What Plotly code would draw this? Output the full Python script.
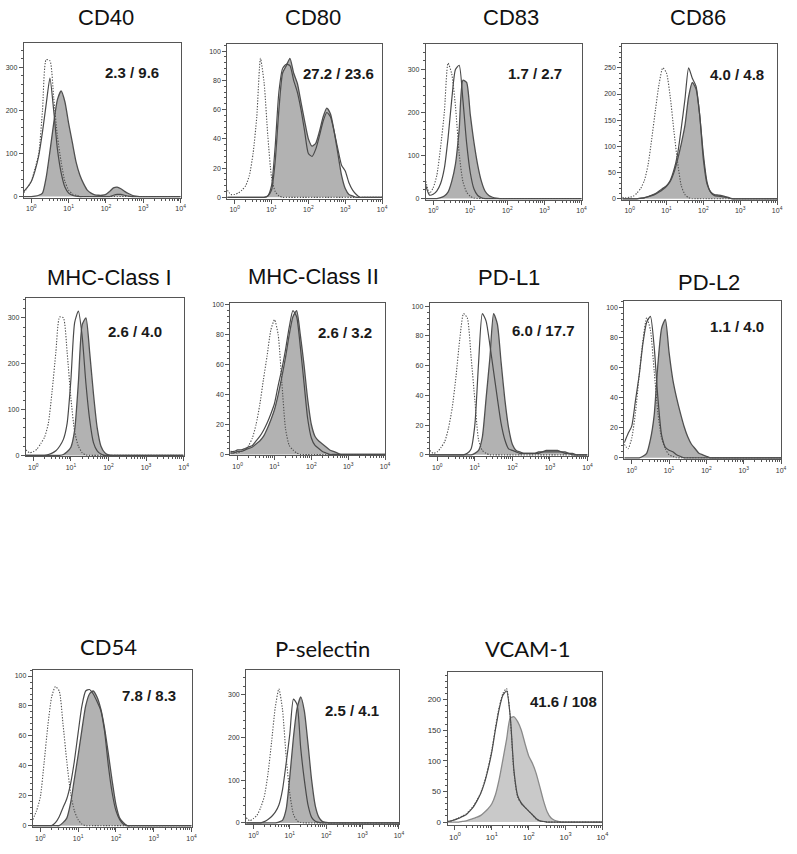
import plotly.graph_objects as go

# ---------------- data ----------------
MARKERS = ["CD40", "CD80", "CD83", "CD86",
           "MHC-Class I", "MHC-Class II", "PD-L1", "PD-L2",
           "CD54", "P-selectin", "VCAM-1"]
RATIOS = ["2.3 / 9.6", "27.2 / 23.6", "1.7 / 2.7", "4.0 / 4.8",
          "2.6 / 4.0", "2.6 / 3.2", "6.0 / 17.7", "1.1 / 4.0",
          "7.8 / 8.3", "2.5 / 4.1", "41.6 / 108"]

# fluorescence bin centres (log-spaced channels)
BINS = [0.631, 0.794,
        1, 1.259, 1.585, 1.995, 2.512, 3.162, 3.981, 5.012, 6.31, 7.943,
        10, 12.59, 15.85, 19.95, 25.12, 31.62, 39.81, 50.12, 63.1, 79.43,
        100, 125.9, 158.5, 199.5, 251.2, 316.2, 398.1, 501.2, 631, 794.3,
        1000, 1259, 1585, 1995, 2512, 3162, 3981, 5012, 6310, 7943,
        10000]

X_TICK_VALS = [1, 10, 100, 1000, 10000]
X_TICK_TEXT = ["10<sup>0</sup>", "10<sup>1</sup>", "10<sup>2</sup>", "10<sup>3</sup>", "10<sup>4</sup>"]
X_MINOR_VALS = [2, 3, 4, 5, 6, 7, 8, 9, 20, 30, 40, 50, 60, 70, 80, 90,
                200, 300, 400, 500, 600, 700, 800, 900,
                2000, 3000, 4000, 5000, 6000, 7000, 8000, 9000]

CD40_ISO = [9, 21,
            36, 65, 100, 200, 318, 315, 230, 140, 80, 35,
            15, 6, 3, 0, 0, 0, 0, 0, 0, 0,
            0, 0, 0, 0, 0, 0, 0, 0, 0, 0,
            0, 0, 0, 0, 0, 0, 0, 0, 0, 0,
            0]
CD40_OPEN = [12, 22,
             35, 60, 95, 150, 215, 275, 200, 110, 55, 22,
             8, 3, 1, 0, 0, 0, 0, 0, 0, 0,
             0, 0, 3, 5, 5, 3, 1, 0, 0, 0,
             0, 0, 0, 0, 0, 0, 0, 0, 0, 0,
             0]
CD40_FILL = [0, 0,
             0, 1, 3, 8, 45, 105, 170, 225, 245, 220,
             170, 125, 80, 50, 30, 15, 8, 4, 3, 3,
             5, 12, 20, 22, 18, 12, 7, 3, 1, 0,
             0, 0, 0, 0, 0, 0, 0, 0, 0, 0,
             0]

CD80_ISO = [5, 2,
            2, 3, 5, 8, 15, 30, 55, 95, 78, 42,
            14, 4, 1, 0, 0, 0, 0, 0, 0, 0,
            0, 0, 0, 0, 0, 0, 0, 0, 0, 0,
            0, 0, 0, 0, 0, 0, 0, 0, 0, 0,
            0]
CD80_OPEN = [0, 0,
             0, 0, 0, 0, 0, 0, 0, 0, 0, 1,
             8, 35, 72, 88, 91, 90, 80, 72, 60, 45,
             30, 28, 33, 42, 52, 58, 55, 45, 33, 22,
             18, 10, 5, 2, 0, 0, 0, 0, 0, 0,
             0]
CD80_FILL = [0, 0,
             0, 0, 0, 0, 0, 0, 0, 0, 0, 1,
             5, 25, 60, 85, 90, 95, 85, 78, 65, 52,
             40, 35, 37, 45, 55, 61, 57, 45, 30, 15,
             6, 2, 1, 0, 0, 0, 0, 0, 0, 0,
             0]

CD83_ISO = [40, 12,
            25, 55, 120, 200, 315, 290, 215, 105, 40, 15,
            5, 1, 0, 0, 0, 0, 0, 0, 0, 0,
            0, 0, 0, 0, 0, 0, 0, 0, 0, 0,
            0, 0, 0, 0, 0, 0, 0, 0, 0, 0,
            0]
CD83_OPEN = [30, 8,
             10, 18, 35, 70, 140, 230, 300, 310, 230, 130,
             60, 22, 7, 2, 0, 0, 0, 0, 0, 0,
             0, 0, 0, 0, 0, 0, 0, 0, 0, 0,
             0, 0, 0, 0, 0, 0, 0, 0, 0, 0,
             0]
CD83_FILL = [0, 0,
             0, 0, 2, 6, 15, 40, 80, 160, 275, 270,
             195, 130, 78, 40, 17, 7, 3, 1, 0, 0,
             0, 0, 0, 0, 0, 0, 0, 0, 0, 0,
             0, 0, 0, 0, 0, 0, 0, 0, 0, 0,
             0]

CD86_ISO = [3, 2,
            3, 5, 11, 20, 35, 65, 115, 170, 220, 250,
            240, 195, 130, 70, 25, 8, 2, 0, 0, 0,
            0, 0, 0, 0, 0, 0, 0, 0, 0, 0,
            0, 0, 0, 0, 0, 0, 0, 0, 0, 0,
            0]
CD86_OPEN = [0, 0,
             0, 0, 0, 1, 2, 4, 7, 10, 15, 20,
             25, 35, 55, 85, 135, 190, 250, 230, 215, 160,
             85, 32, 12, 6, 5, 4, 3, 1, 0, 0,
             0, 0, 0, 0, 0, 0, 0, 0, 0, 0,
             0]
CD86_FILL = [0, 0,
             0, 0, 0, 1, 2, 4, 6, 9, 13, 18,
             24, 33, 50, 75, 105, 140, 195, 222, 210, 160,
             75, 28, 13, 8, 7, 6, 4, 2, 0, 0,
             0, 0, 0, 0, 0, 0, 0, 0, 0, 0,
             0]

MHC1_ISO = [12, 6,
            8, 14, 26, 40, 70, 140, 225, 302, 300, 225,
            125, 52, 20, 6, 1, 0, 0, 0, 0, 0,
            0, 0, 0, 0, 0, 0, 0, 0, 0, 0,
            0, 0, 0, 0, 0, 0, 0, 0, 0, 0,
            0]
MHC1_OPEN = [0, 0,
             0, 0, 0, 0, 2, 5, 10, 20, 35, 70,
             165, 290, 315, 260, 157, 78, 28, 10, 3, 0,
             0, 0, 0, 0, 0, 0, 0, 0, 0, 0,
             0, 0, 0, 0, 0, 0, 0, 0, 0, 0,
             0]
MHC1_FILL = [0, 0,
             0, 0, 0, 0, 0, 0, 0, 0, 2, 8,
             18, 55, 160, 285, 300, 225, 135, 60, 20, 6,
             1, 0, 0, 0, 0, 0, 0, 0, 0, 0,
             0, 0, 0, 0, 0, 0, 0, 0, 0, 0,
             0]

MHC2_ISO = [1, 1,
            1, 2, 3, 6, 11, 20, 33, 50, 66, 83,
            90, 80, 48, 17, 6, 3, 1, 0, 0, 0,
            0, 0, 0, 0, 0, 0, 0, 0, 0, 0,
            0, 0, 0, 0, 0, 0, 0, 0, 0, 0,
            0]
MHC2_OPEN = [2, 2,
             3, 3, 4, 5, 6, 9, 12, 16, 21, 27,
             34, 46, 57, 70, 85, 96, 92, 72, 48, 24,
             11, 6, 4, 2, 1, 0, 0, 0, 0, 0,
             0, 0, 0, 0, 0, 0, 0, 0, 0, 0,
             0]
MHC2_FILL = [1, 1,
             2, 2, 3, 4, 5, 7, 9, 12, 17, 23,
             30, 40, 52, 65, 80, 92, 96, 80, 60, 37,
             20, 12, 9, 7, 5, 3, 2, 1, 0, 0,
             0, 0, 0, 0, 0, 0, 0, 0, 0, 0,
             0]

PDL1_ISO = [3, 1,
            2, 5, 9, 18, 32, 53, 78, 95, 92, 66,
            37, 10, 3, 1, 0, 0, 0, 0, 0, 0,
            0, 0, 0, 0, 0, 0, 0, 0, 0, 0,
            0, 0, 0, 0, 0, 0, 0, 0, 0, 0,
            0]
PDL1_OPEN = [0, 0,
             0, 0, 0, 0, 0, 0, 0, 0, 1, 4,
             20, 62, 95, 90, 74, 56, 38, 21, 10, 4,
             3, 2, 1, 1, 1, 1, 1, 1, 2, 2,
             2, 2, 2, 2, 1, 1, 0, 0, 0, 0,
             0]
PDL1_FILL = [0, 0,
             0, 0, 0, 0, 0, 0, 0, 0, 0, 0,
             1, 3, 12, 38, 65, 95, 88, 62, 37, 18,
             7, 3, 2, 1, 1, 1, 1, 2, 2, 3,
             3, 3, 3, 2, 2, 1, 1, 0, 0, 0,
             0]

PDL2_ISO = [9, 6,
            13, 30, 55, 78, 93, 85, 58, 30, 13, 6,
            2, 1, 0, 0, 0, 0, 0, 0, 0, 0,
            0, 0, 0, 0, 0, 0, 0, 0, 0, 0,
            0, 0, 0, 0, 0, 0, 0, 0, 0, 0,
            0]
PDL2_OPEN = [10, 16,
             21, 38, 55, 76, 90, 94, 74, 40, 15, 7,
             5, 4, 2, 1, 0, 0, 0, 0, 0, 0,
             0, 0, 0, 0, 0, 0, 0, 0, 0, 0,
             0, 0, 0, 0, 0, 0, 0, 0, 0, 0,
             0]
PDL2_FILL = [0, 0,
             0, 0, 0, 1, 3, 12, 28, 62, 86, 92,
             70, 52, 40, 30, 21, 14, 9, 6, 3, 2,
             1, 0, 0, 0, 0, 0, 0, 0, 0, 0,
             0, 0, 0, 0, 0, 0, 0, 0, 0, 0,
             0]

CD54_ISO = [4, 10,
            19, 42, 67, 86, 93, 90, 68, 43, 22, 10,
            4, 1, 0, 0, 0, 0, 0, 0, 0, 0,
            0, 0, 0, 0, 0, 0, 0, 0, 0, 0,
            0, 0, 0, 0, 0, 0, 0, 0, 0, 0,
            0]
CD54_OPEN = [0, 0,
             0, 0, 0, 0, 2, 6, 12, 18, 28, 43,
             62, 80, 90, 91, 88, 83, 77, 63, 40, 22,
             10, 4, 1, 0, 0, 0, 0, 0, 0, 0,
             0, 0, 0, 0, 0, 0, 0, 0, 0, 0,
             0]
CD54_FILL = [0, 0,
             0, 0, 0, 0, 0, 0, 2, 5, 15, 31,
             47, 64, 80, 88, 90, 86, 78, 65, 48, 30,
             14, 5, 2, 0, 0, 0, 0, 0, 0, 0,
             0, 0, 0, 0, 0, 0, 0, 0, 0, 0,
             0]

PSEL_ISO = [12, 5,
            10, 18, 36, 62, 115, 190, 270, 314, 265, 155,
            69, 20, 5, 1, 0, 0, 0, 0, 0, 0,
            0, 0, 0, 0, 0, 0, 0, 0, 0, 0,
            0, 0, 0, 0, 0, 0, 0, 0, 0, 0,
            0]
PSEL_OPEN = [0, 0,
             0, 0, 0, 3, 8, 15, 25, 42, 78, 140,
             208, 290, 277, 175, 100, 42, 13, 4, 1, 0,
             0, 0, 0, 0, 0, 0, 0, 0, 0, 0,
             0, 0, 0, 0, 0, 0, 0, 0, 0, 0,
             0]
PSEL_FILL = [0, 0,
             0, 0, 0, 0, 0, 0, 0, 2, 6, 32,
             108, 200, 268, 295, 262, 185, 100, 40, 13, 3,
             1, 0, 0, 0, 0, 0, 0, 0, 0, 0,
             0, 0, 0, 0, 0, 0, 0, 0, 0, 0,
             0]

VCAM_ISO = [1, 2,
            4, 7, 10, 13, 19, 26, 36, 48, 66, 89,
            118, 155, 188, 210, 218, 170, 80, 41, 30, 24,
            18, 12, 5, 2, 1, 0, 0, 0, 0, 0,
            0, 0, 0, 0, 0, 0, 0, 0, 0, 0,
            0]
VCAM_OPEN = [1, 2,
             4, 6, 9, 12, 18, 25, 35, 47, 64, 87,
             115, 152, 185, 207, 214, 172, 84, 43, 31, 24,
             18, 12, 6, 2, 1, 0, 0, 0, 0, 0,
             0, 0, 0, 0, 0, 0, 0, 0, 0, 0,
             0]
VCAM_FILL = [0, 0,
             0, 0, 1, 2, 4, 6, 8, 11, 16, 22,
             30, 45, 70, 102, 135, 170, 172, 164, 150, 128,
             108, 96, 80, 58, 35, 17, 7, 3, 1, 0,
             0, 0, 0, 0, 0, 0, 0, 0, 0, 0,
             0]

ISO = [CD40_ISO, CD80_ISO, CD83_ISO, CD86_ISO, MHC1_ISO, MHC2_ISO,
       PDL1_ISO, PDL2_ISO, CD54_ISO, PSEL_ISO, VCAM_ISO]
OPEN = [CD40_OPEN, CD80_OPEN, CD83_OPEN, CD86_OPEN, MHC1_OPEN, MHC2_OPEN,
        PDL1_OPEN, PDL2_OPEN, CD54_OPEN, PSEL_OPEN, VCAM_OPEN]
FILL = [CD40_FILL, CD80_FILL, CD83_FILL, CD86_FILL, MHC1_FILL, MHC2_FILL,
        PDL1_FILL, PDL2_FILL, CD54_FILL, PSEL_FILL, VCAM_FILL]

for s in ISO + OPEN + FILL:
    assert len(s) == len(BINS), len(s)

# ---------------- layout config ----------------
W, H = 797, 854
# plot box in pixels: left, top, right, bottom
BOXES = [(24, 41, 182, 197), (229, 42, 385, 198), (429, 42, 586, 199), (627, 42, 783, 199),
         (26, 298, 185, 457), (232, 303, 388, 456), (433, 303, 592, 457), (629, 301, 787, 460),
         (33, 672, 193, 830), (248, 672, 402, 827), (451, 674, 607, 828)]
YRANGES = [(-3, 357), (-1, 105), (-3, 360), (-2, 296),
           (-2, 343), (-0.6, 101), (-1, 102), (-1, 104),
           (-1, 104), (-3, 358), (-5, 245)]
YDTICK = [100, 20, 100, 50, 100, 20, 20, 20, 20, 100, 50]
RATIO_POS = [(0.69, 0.19), (0.72, 0.19), (0.70, 0.19), (0.74, 0.20),
             (0.69, 0.21), (0.74, 0.19), (0.72, 0.18), (0.72, 0.16),
             (0.73, 0.16), (0.69, 0.26), (0.75, 0.19)]
TITLE_POS = [(107, 16), (315, 16), (515, 16), (703, 16),
             (110, 277), (316, 276), (513, 277), (714, 282),
             (109, 648), (325, 650), (532, 650)]

fig = go.Figure()
layout = dict(width=W, height=H, margin=dict(l=0, r=0, t=0, b=0),
              paper_bgcolor="white", plot_bgcolor="white", showlegend=False)
annotations = []

for i, name in enumerate(MARKERS):
    n = "" if i == 0 else str(i + 1)
    xa, ya = "x" + n, "y" + n
    last = (i == len(MARKERS) - 1)
    fill_col = "#c9c9c9" if last else "#b2b2b2"
    fill_line = "#8a8a8a" if last else "#505050"
    tick_size = 8 if last else 7

    fig.add_trace(go.Scatter(x=BINS, y=FILL[i], mode="lines", fill="tozeroy",
                             fillcolor=fill_col,
                             line=dict(color=fill_line, width=1.3, shape="spline", smoothing=0.6),
                             xaxis=xa, yaxis=ya, hoverinfo="skip"))
    fig.add_trace(go.Scatter(x=BINS, y=OPEN[i], mode="lines",
                             line=dict(color="#4a4a4a", width=1.2, shape="spline", smoothing=0.6),
                             xaxis=xa, yaxis=ya, hoverinfo="skip"))
    fig.add_trace(go.Scatter(x=BINS, y=ISO[i], mode="lines",
                             line=dict(color="#505050", width=1.1, dash="1.3px,1.5px",
                                       shape="spline", smoothing=0.6),
                             xaxis=xa, yaxis=ya, hoverinfo="skip"))

    l, t, r, b = BOXES[i]
    layout["xaxis" + n] = dict(
        type="log", range=[-0.2, 4.0], domain=[l / W, r / W], anchor=ya,
        showline=True, mirror=True, linecolor="#555555", linewidth=1,
        ticks="outside", ticklen=4, tickwidth=1, tickcolor="#555555",
        tickmode="array", tickvals=X_TICK_VALS, ticktext=X_TICK_TEXT,
        tickfont=dict(family="Liberation Sans", size=tick_size, color="#333333"),
        minor=dict(tickmode="array", tickvals=X_MINOR_VALS, ticks="outside",
                   ticklen=2, tickcolor="#555555", showgrid=False),
        showgrid=False, zeroline=False, fixedrange=True)
    layout["yaxis" + n] = dict(
        range=list(YRANGES[i]), domain=[1 - b / H, 1 - t / H], anchor=xa,
        showline=True, mirror=True, linecolor="#555555", linewidth=1,
        ticks="outside", ticklen=4, tickwidth=1, tickcolor="#555555",
        tick0=0, dtick=YDTICK[i],
        tickfont=dict(family="Liberation Sans", size=tick_size, color="#333333"),
        minor=dict(dtick=YDTICK[i] / 5, tick0=0, ticks="outside", ticklen=2,
                   tickcolor="#555555", showgrid=False),
        showgrid=False, zeroline=False, fixedrange=True)

    rx, ry = RATIO_POS[i]
    annotations.append(dict(text="<b>" + RATIOS[i] + "</b>", xref=xa + " domain", yref=ya + " domain",
                            x=rx, y=1 - ry, xanchor="center", yanchor="middle", showarrow=False,
                            font=dict(family="Liberation Sans", size=15, color="#1a1a1a")))
    cx, cy = TITLE_POS[i]
    title_font = "Lato" if i >= 8 else "Liberation Sans"
    annotations.append(dict(text=name, xref="paper", yref="paper", x=cx / W, y=1 - cy / H,
                            xanchor="center", yanchor="middle", showarrow=False,
                            font=dict(family=title_font, size=22, color="#111111")))

layout["annotations"] = annotations
fig.update_layout(**layout)
fig.write_html("out.html", config={"displayModeBar": False},
               post_script="document.body.style.margin='0px';document.body.style.padding='0px';")
